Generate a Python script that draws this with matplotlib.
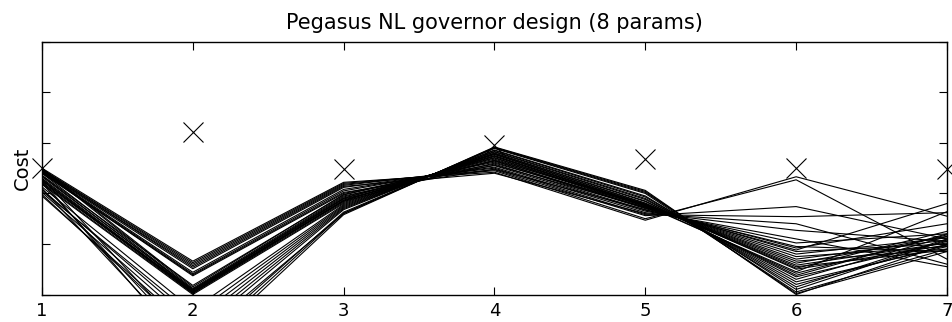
import matplotlib
matplotlib.use("Agg")
import matplotlib.pyplot as plt
import numpy as np

plt.rcParams['font.family'] = ['DejaVu Sans']

params = [1, 2, 3, 4, 5, 6, 7]
tick_labels = ['1', '2', '3', '4', '5', '6', '7']

# reference (X markers) cost per parameter
reference = [2.51, 3.22, 2.49, 2.95, 2.69, 2.51, 2.49]

# candidate designs, one row per line (values at params 1..7)
designs = [
    [2.50, 0.66, 2.22, 2.42, 1.47, 2.33, 1.55],
    [2.48, 0.63, 2.20, 2.45, 1.50, 2.27, 0.70],
    [2.47, 0.60, 2.18, 2.47, 1.56, 1.74, 1.10],
    [2.45, 0.57, 2.16, 2.50, 1.58, 1.54, 1.62],
    [2.46, 0.54, 2.14, 2.40, 1.60, 1.40, 0.60],
    [2.44, 0.51, 2.12, 2.52, 1.62, 1.27, 1.05],
    [2.43, 0.44, 2.08, 2.55, 1.65, 1.10, 0.55],
    [2.42, 0.41, 2.05, 2.58, 1.67, 1.02, 1.20],
    [2.40, 0.39, 2.02, 2.48, 1.68, 0.95, 0.85],
    [2.41, 0.37, 2.00, 2.62, 1.70, 0.88, 1.80],
    [2.50, 0.15, 1.98, 2.64, 1.72, 0.85, 1.00],
    [2.48, 0.12, 1.95, 2.56, 1.73, 0.80, 1.12],
    [2.40, 0.10, 1.93, 2.68, 1.74, 0.75, 0.95],
    [2.35, 0.08, 1.91, 2.70, 1.75, 0.70, 1.08],
    [2.30, 0.06, 1.89, 2.60, 1.76, 0.66, 0.90],
    [2.28, 0.05, 1.87, 2.73, 1.77, 0.62, 1.15],
    [2.25, 0.03, 1.85, 2.75, 1.78, 0.58, 1.02],
    [2.22, 0.08, 1.84, 2.66, 1.79, 0.55, 0.88],
    [2.20, 0.02, 1.82, 2.77, 1.80, 0.52, 1.25],
    [2.18, 0.00, 1.80, 2.78, 1.81, 0.50, 0.98],
    [2.36, 0.18, 1.97, 2.65, 1.71, 0.92, 1.40],
    [2.33, 0.10, 1.90, 2.71, 1.76, 0.45, 1.64],
    [2.26, 0.04, 1.86, 2.74, 1.78, 0.42, 1.18],
    [2.05, -0.40, 1.76, 2.80, 1.85, 0.35, 1.05],
    [2.02, -0.60, 1.72, 2.83, 1.90, 0.25, 0.95],
    [1.98, -0.80, 1.68, 2.86, 1.95, 0.15, 1.10],
    [2.20, -1.00, 1.63, 2.89, 2.00, 0.05, 0.90],
    [2.25, -1.20, 1.58, 2.92, 2.06, 0.00, 1.00],
    [2.30, -0.90, 1.60, 2.91, 2.04, 0.02, 0.85],
    [2.08, -0.50, 1.74, 2.82, 1.88, 0.30, 1.15],
    [1.95, -0.70, 1.70, 2.85, 1.93, 0.20, 0.98],
    [2.13, -0.30, 1.78, 2.79, 1.84, 0.38, 1.20],
    [2.10, -1.10, 1.61, 2.90, 2.02, 0.10, 1.08],
]

fig = plt.figure(figsize=(9.52, 3.22), dpi=100)
ax = fig.add_axes([0.0441, 0.0854, 0.9506, 0.7846])

for row in designs:
    ax.plot(params, row, color='black', linewidth=0.8)

ax.plot(params, reference, linestyle='none', marker='x', color='black',
        markersize=15, markeredgewidth=0.8, clip_on=False)

ax.set_xlim(1, 7)
ax.set_ylim(0, 5)
ax.set_xticks(params)
ax.set_xticklabels(tick_labels, fontsize=13)
ax.set_yticks([0, 1, 2, 3, 4, 5])
ax.set_yticklabels([])
ax.tick_params(direction='in', length=6, width=0.8, top=True, right=True, pad=5.5)
for s in ax.spines.values():
    s.set_linewidth(1.0)
ax.set_ylabel('Cost', fontsize=14, labelpad=2)
ax.set_title('Pegasus NL governor design (8 params)', fontsize=15, pad=9)

fig.savefig('out.png', dpi=100)
